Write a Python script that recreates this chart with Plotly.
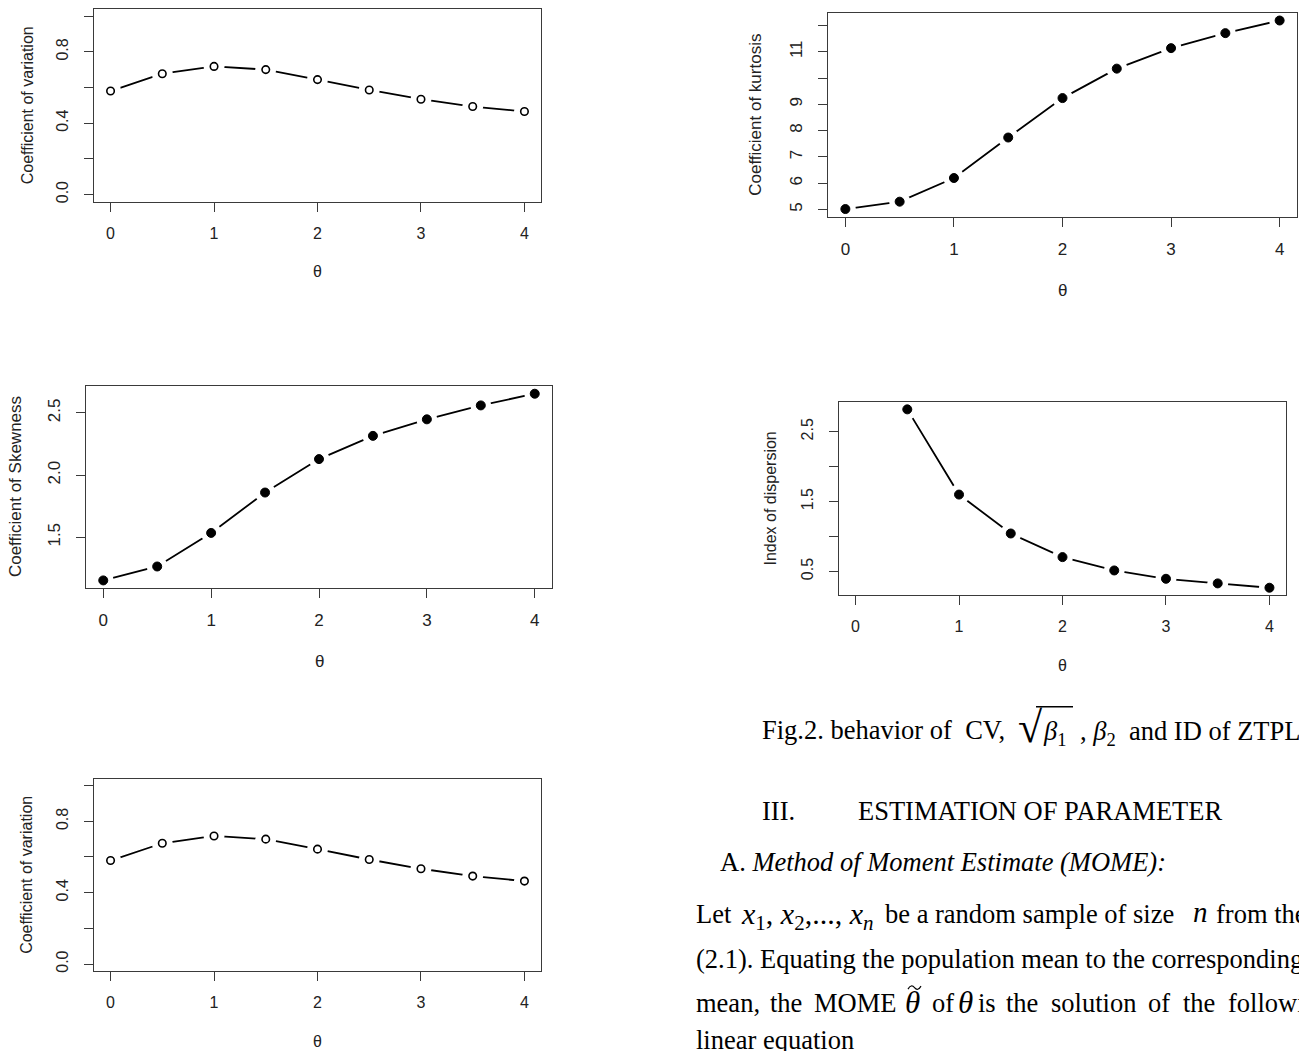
import plotly.graph_objects as go

W, H = 1299, 1051

# ---------------- data ----------------
theta = [0, 0.5, 1, 1.5, 2, 2.5, 3, 3.5, 4]
cv = [0.580, 0.677, 0.718, 0.700, 0.644, 0.586, 0.534, 0.493, 0.465]
skew = [1.153, 1.265, 1.535, 1.860, 2.129, 2.316, 2.449, 2.561, 2.655]
kurt = [5.02, 5.30, 6.20, 7.74, 9.24, 10.36, 11.14, 11.71, 12.19]
theta_id = [0.5, 1, 1.5, 2, 2.5, 3, 3.5, 4]
idisp = [2.819, 1.600, 1.043, 0.705, 0.514, 0.395, 0.329, 0.267]

x_ticks = [0, 1, 2, 3, 4]
x_labels = ["0", "1", "2", "3", "4"]
cv_ticks = [0.0, 0.2, 0.4, 0.6, 0.8, 1.0]
cv_labels = ["0.0", "", "0.4", "", "0.8", ""]
kurt_ticks = [5, 6, 7, 8, 9, 10, 11, 12]
kurt_labels = ["5", "6", "7", "8", "9", "", "11", ""]
skew_ticks = [1.5, 2.0, 2.5]
skew_labels = ["1.5", "2.0", "2.5"]
id_ticks = [0.5, 1.0, 1.5, 2.0, 2.5]
id_labels = ["0.5", "", "1.5", "", "2.5"]


def rrange(v):
    lo, hi = min(v), max(v)
    s = hi - lo
    return [lo - 0.04 * s, hi + 0.04 * s]


panels = [
    dict(x=theta, y=cv, box=(94, 541, 9, 202), tv=cv_ticks, tt=cv_labels, yr=[-0.04, 1.04],
         title="Coefficient of variation", open=True, tx=27, fs=16, th=70),
    dict(x=theta, y=kurt, box=(828, 1297, 13, 217), tv=kurt_ticks, tt=kurt_labels, yr=rrange(kurt),
         title="Coefficient of kurtosis", open=False, tx=756, fs=17, th=74),
    dict(x=theta, y=skew, box=(86, 552, 387, 589), tv=skew_ticks, tt=skew_labels, yr=rrange(skew),
         title="Coefficient of Skewness", open=False, tx=15, fs=17, th=74),
    dict(x=theta_id, y=idisp, box=(839, 1286, 403, 596), tv=id_ticks, tt=id_labels, yr=rrange(idisp),
         title="Index of dispersion", open=False, tx=771, fs=16, th=71),
    dict(x=theta, y=cv, box=(94, 541, 780, 973), tv=cv_ticks, tt=cv_labels, yr=[-0.04, 1.04],
         title="Coefficient of variation", open=True, tx=27, fs=16, th=70),
]

fig = go.Figure()
layout = dict(
    width=W, height=H, margin=dict(l=0, r=0, t=0, b=0),
    paper_bgcolor="white", plot_bgcolor="white", showlegend=False,
)
annotations = []
shapes = []
AX = "#3a3a3a"
SANS = "Liberation Sans, Arial, sans-serif"
SERIF = "Liberation Serif, Times New Roman, serif"


def px_x(x):
    return x / W


def px_y(y):
    return 1 - y / H


for i, p in enumerate(panels):
    n = "" if i == 0 else str(i + 1)
    xa, ya = "x" + n, "y" + n
    l, r, t, b = p["box"]
    major_v = [v for v, s in zip(p["tv"], p["tt"]) if s]
    major_t = [s for s in p["tt"] if s]
    minor_v = [v for v, s in zip(p["tv"], p["tt"]) if not s]
    layout["xaxis" + n] = dict(
        domain=[px_x(l), px_x(r)], range=[-0.16, 4.16], anchor=ya,
        tickvals=x_ticks, ticktext=x_labels, ticks="outside", ticklen=9, tickwidth=1.2,
        tickcolor=AX, showline=True, mirror=True, linecolor=AX, linewidth=1.3,
        showgrid=False, zeroline=False, ticklabelstandoff=8,
        tickfont=dict(family=SANS, size=p["fs"], color="#222"),
    )
    yax = dict(
        domain=[px_y(b), px_y(t)], range=p["yr"], anchor=xa,
        tickvals=major_v, ticktext=major_t, ticks="outside", ticklen=9, tickwidth=1.2,
        tickcolor=AX, showline=True, mirror=True, linecolor=AX, linewidth=1.3,
        showgrid=False, zeroline=False, tickangle=-90, ticklabelstandoff=9,
        tickfont=dict(family=SANS, size=p["fs"], color="#222"),
    )
    if minor_v:
        yax["minor"] = dict(tickvals=minor_v, ticks="outside", ticklen=9, tickwidth=1.2,
                            tickcolor=AX, showgrid=False)
    layout["yaxis" + n] = yax
    # connecting line
    fig.add_trace(go.Scatter(x=p["x"], y=p["y"], mode="lines", xaxis=xa, yaxis=ya,
                             line=dict(color="black", width=1.8), hoverinfo="skip"))
    # white masks to produce the gaps of R's type="b"
    fig.add_trace(go.Scatter(x=p["x"], y=p["y"], mode="markers", xaxis=xa, yaxis=ya,
                             marker=dict(color="white", size=21, line=dict(width=0)), hoverinfo="skip"))
    if p["open"]:
        mk = dict(symbol="circle", color="white", size=7.5, line=dict(color="black", width=1.6))
    else:
        mk = dict(symbol="circle", color="black", size=9, line=dict(color="black", width=1))
    fig.add_trace(go.Scatter(x=p["x"], y=p["y"], mode="markers", xaxis=xa, yaxis=ya, marker=mk))
    annotations.append(dict(x=px_x(p["tx"]), y=px_y((t + b) / 2), xref="paper", yref="paper",
                            text=p["title"], textangle=-90, showarrow=False,
                            xanchor="center", yanchor="middle",
                            font=dict(family=SANS, size=p["fs"], color="#222")))
    annotations.append(dict(x=px_x((l + r) / 2), y=px_y(b + p["th"]), xref="paper", yref="paper",
                            text="θ", showarrow=False, xanchor="center", yanchor="middle",
                            font=dict(family=SANS, size=p["fs"], color="#222")))

# ---------------- text block on the lower right ----------------
TS = 26.5


def txt(x, y, s, size=TS, anchor="left"):
    annotations.append(dict(x=px_x(x), y=px_y(y), xref="paper", yref="paper", text=s,
                            showarrow=False, xanchor=anchor, yanchor="middle",
                            font=dict(family=SERIF, size=size, color="black")))


txt(760, 731, "Fig.2. behavior of  CV,")
txt(1016, 729, "√", size=44)
shapes.append(dict(type="line", xref="paper", yref="paper", x0=px_x(1036), x1=px_x(1073),
                   y0=px_y(708), y1=px_y(708), line=dict(color="black", width=1.5)))
txt(1041, 734, "<i>β</i><sub>1</sub>")
txt(1078, 734, ", <i>β</i><sub>2</sub>  and ID of ZTPL")
txt(760, 813, "III.")
txt(856, 813, "ESTIMATION OF PARAMETER")
txt(718, 864, "A. <i>Method of Moment Estimate (MOME):</i>")

# "Let x1, x2, ..., xn be a random sample of size n from the"
txt(694, 916, "Let")
txt(739, 918, "<i>x</i><sub>1</sub>, <i>x</i><sub>2</sub>,..., <i>x</i><sub><i>n</i></sub>", size=30)
txt(883, 916, "be a random sample of size")
txt(1191, 914, "<i>n</i>", size=29)
txt(1214, 916, "from the")

txt(694, 961, "(2.1). Equating the population mean to the corresponding")

# justified line
words = [(694, "mean,"), (768, "the"), (812, "MOME"), (930, "of"), (976, "is"),
         (1004, "the"), (1049, "solution"), (1146, "of"), (1181, "the"), (1226, "following")]
for wx, w in words:
    txt(wx, 1005, w)
txt(903, 1004, "<i>θ</i>", size=31)
txt(956, 1004, "<i>θ</i>", size=31)
# tilde accent over the first theta
tx0, tx1, tyc = 908.0, 921.0, 989.5
path = (f"M {px_x(tx0)},{px_y(tyc + 1.5)} "
        f"Q {px_x(tx0 + 3.2)},{px_y(tyc - 4)} {px_x((tx0 + tx1) / 2)},{px_y(tyc)} "
        f"T {px_x(tx1)},{px_y(tyc - 1.5)}")
shapes.append(dict(type="path", xref="paper", yref="paper", path=path,
                   line=dict(color="black", width=1.2)))

txt(694, 1042, "linear equation")

layout["annotations"] = annotations
layout["shapes"] = shapes
fig.update_layout(**layout)

fig.write_html("out.html", config={"displayModeBar": False},
               post_script="document.body.style.margin='0';")
